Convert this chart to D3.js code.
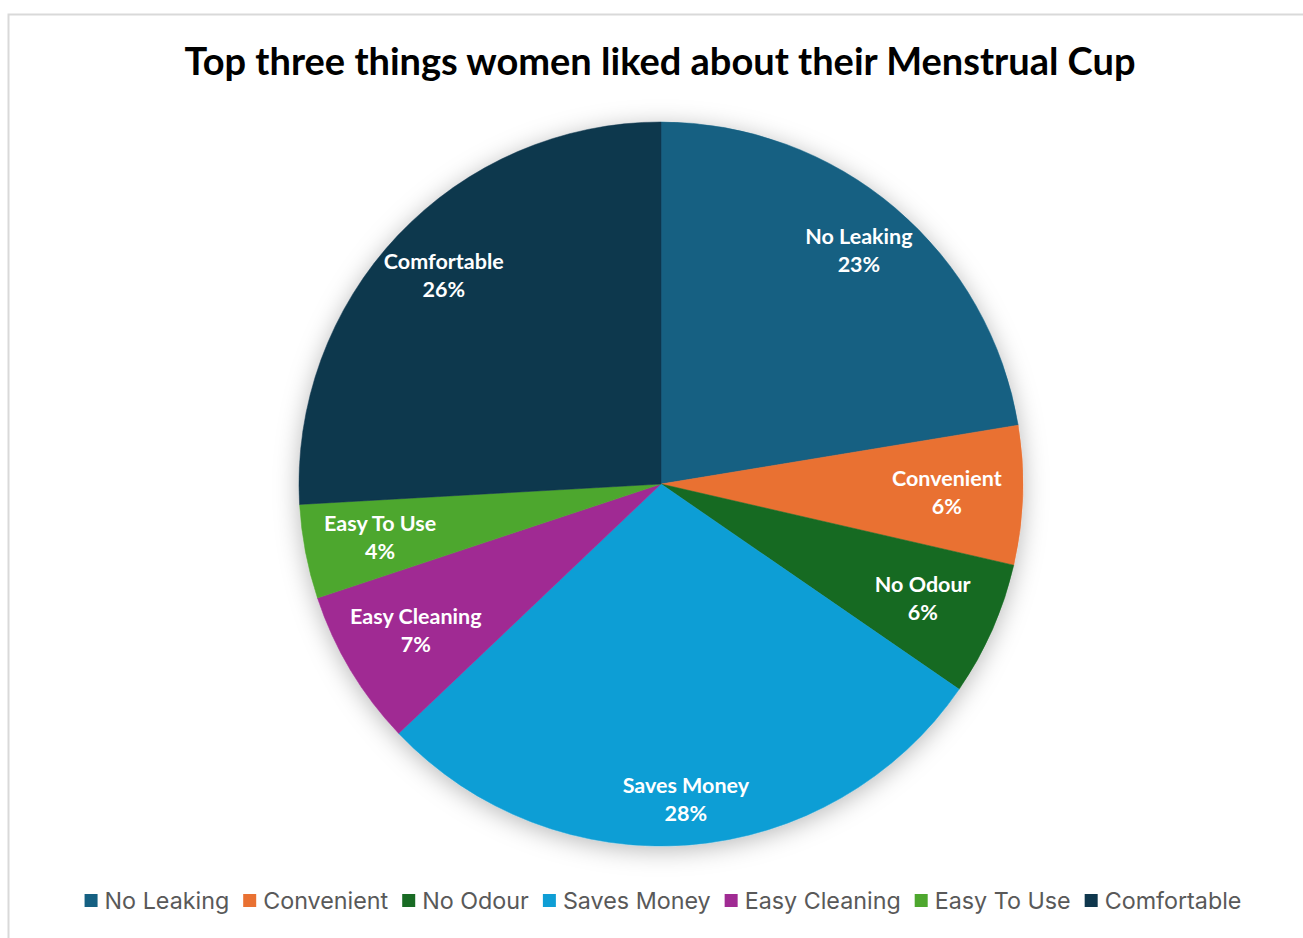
<!DOCTYPE html>
<html>
<head>
<meta charset="utf-8">
<script src="https://cdn.jsdelivr.net/npm/d3@7"></script>
<style>
  body { margin: 0; background: #fff; }
  svg { display: block; }
</style>
</head>
<body>
<div id="chart"></div>
<script>
var W = 1303, H = 938;

// values (slice angles), labels show rounded %
var categories = ["No Leaking", "Convenient", "No Odour", "Saves Money", "Easy Cleaning", "Easy To Use", "Comfortable"];
var values = [22.4, 6.2, 6.0, 28.3, 7.0, 4.2, 25.9];
var labelsPct = ["23%", "6%", "6%", "28%", "7%", "4%", "26%"];
var colors = ["#156082", "#E97132", "#196B24", "#0F9ED5", "#A02B93", "#4EA72E", "#0F374D"];

// Excel "best fit" moves a few labels off the default ring
var labelNudge = {
  "No Leaking": { r: 0.845 },
  "Saves Money": { r: 0.875 },
  "Comfortable": { r: 0.83, angle: 313.7 }
};

var cx = 661, cy = 484, R = 362;

var svg = d3.select("#chart").append("svg")
  .attr("width", W)
  .attr("height", H);

var defs = svg.append("defs");
var f = defs.append("filter")
  .attr("id", "shadow")
  .attr("x", "-20%").attr("y", "-20%")
  .attr("width", "140%").attr("height", "140%");
f.append("feDropShadow")
  .attr("dx", 0).attr("dy", 4)
  .attr("stdDeviation", 12)
  .attr("flood-color", "#000")
  .attr("flood-opacity", 0.28);

// chart frame
svg.append("rect")
  .attr("x", 8.5).attr("y", 14.5)
  .attr("width", W + 20).attr("height", H + 20)
  .attr("fill", "#fff")
  .attr("stroke", "#d9d9d9")
  .attr("stroke-width", 2);

var title = svg.append("text")
  .attr("x", 660)
  .attr("y", 75)
  .attr("text-anchor", "middle")
  .style("font-family", "Lato, 'Open Sans', sans-serif")
  .style("font-weight", "bold")
  .style("font-size", "33px")
  .attr("fill", "#000")
  .text("Top three things women liked about their Menstrual Cup");
// fit the title to the width it takes in the original
var tw = title.node().getComputedTextLength();
title.style("font-size", (33 * 951 / tw) + "px");

var data = categories.map(function(c, i) {
  return { name: c, value: values[i], pct: labelsPct[i], color: colors[i] };
});

var pie = d3.pie()
  .sort(null)
  .value(function(d) { return d.value; });

var arc = d3.arc()
  .innerRadius(0)
  .outerRadius(R);

var arcs = pie(data);

var g = svg.append("g")
  .attr("transform", "translate(" + cx + "," + cy + ")");

g.append("g")
  .attr("filter", "url(#shadow)")
  .selectAll("path")
  .data(arcs)
  .enter()
  .append("path")
  .attr("d", arc)
  .attr("fill", function(d) { return d.data.color; })
  .attr("stroke", function(d) { return d.data.color; })
  .attr("stroke-width", 0.5);

function labelPos(d) {
  var n = labelNudge[d.data.name] || {};
  var a = n.angle != null ? n.angle * Math.PI / 180 : (d.startAngle + d.endAngle) / 2;
  var r = (n.r || 0.79) * R;
  return [r * Math.sin(a), -r * Math.cos(a)];
}

var lab = g.selectAll(".lbl")
  .data(arcs)
  .enter()
  .append("text")
  .attr("class", "lbl")
  .attr("text-anchor", "middle")
  .attr("transform", function(d) { return "translate(" + labelPos(d) + ")"; })
  .style("font-family", "Lato, 'Open Sans', sans-serif")
  .style("font-weight", "bold")
  .style("font-size", "21.5px")
  .attr("fill", "#fff");
lab.append("tspan")
  .attr("x", 0).attr("y", -7)
  .text(function(d) { return d.data.name; });
lab.append("tspan")
  .attr("x", 0).attr("y", 21)
  .text(function(d) { return d.data.pct; });

// legend
var legend = svg.append("g");
var item = legend.selectAll("g")
  .data(data)
  .enter()
  .append("g");
item.append("rect")
  .attr("width", 13).attr("height", 13)
  .attr("y", -15)
  .attr("fill", function(d) { return d.color; });
item.append("text")
  .attr("x", 20)
  .attr("y", 0)
  .style("font-family", "Inter, 'Noto Sans', sans-serif")
  .style("font-size", "23.3px")
  .attr("fill", "#595959")
  .text(function(d) { return d.name; });

var xoff = 0;
item.each(function() {
  var w = this.querySelector("text").getComputedTextLength();
  d3.select(this).attr("transform", "translate(" + xoff + ",0)");
  xoff += 20 + w + 14;
});
var totalW = xoff - 14;
legend.attr("transform", "translate(" + (663 - totalW / 2) + ",909)");
</script>
</body>
</html>
